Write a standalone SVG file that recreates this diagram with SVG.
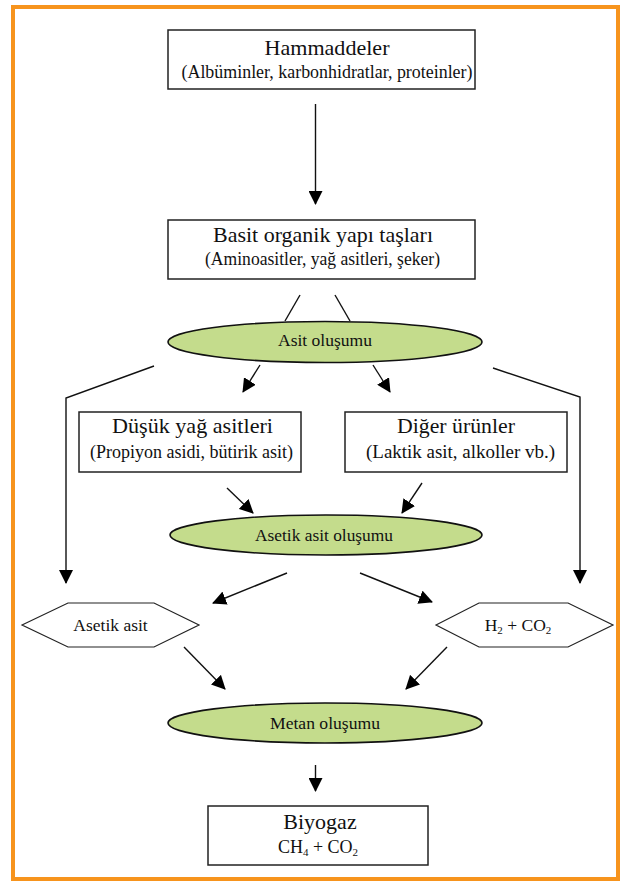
<svg xmlns="http://www.w3.org/2000/svg" width="624" height="882" viewBox="0 0 624 882">
<defs>
<marker id="ah" viewBox="0 0 14 14" refX="13" refY="7" markerWidth="14" markerHeight="14" markerUnits="userSpaceOnUse" orient="auto">
<path d="M0,0 L14,7 L0,14 z" fill="#000"/>
</marker>
<style>
.box{fill:#fff;stroke:#222;stroke-width:1.5}
.ell{fill:#c4dc8c;stroke:#111;stroke-width:1.6}
.hex{fill:#fff;stroke:#222;stroke-width:1.2}
.t{font-family:"Liberation Serif","Times New Roman",serif;fill:#111;text-anchor:middle}
.big{font-size:22px}
.sub{font-size:18px}
.sm{font-size:17.5px}
.con{stroke:#111;stroke-width:1.4;fill:none}
</style>
</defs>
<rect x="13" y="7" width="605" height="872" fill="#fff" stroke="#f7941d" stroke-width="4"/>

<g id="connectors">
<line class="con" x1="315.5" y1="104" x2="315.5" y2="204" marker-end="url(#ah)"/>
<line class="con" x1="300" y1="295" x2="285" y2="321"/>
<line class="con" x1="335" y1="295" x2="350" y2="321"/>
<line class="con" x1="260" y1="365" x2="243" y2="392" marker-end="url(#ah)"/>
<line class="con" x1="373" y1="365" x2="390" y2="392" marker-end="url(#ah)"/>
<polyline class="con" points="154,366 66,398 66,583" marker-end="url(#ah)"/>
<polyline class="con" points="493,368 580,397 580,583" marker-end="url(#ah)"/>
<line class="con" x1="227" y1="488" x2="253" y2="513" marker-end="url(#ah)"/>
<line class="con" x1="422" y1="483" x2="402" y2="513" marker-end="url(#ah)"/>
<line class="con" x1="287" y1="573" x2="213" y2="603" marker-end="url(#ah)"/>
<line class="con" x1="360" y1="573" x2="432" y2="602" marker-end="url(#ah)"/>
<line class="con" x1="184" y1="647" x2="225" y2="689" marker-end="url(#ah)"/>
<line class="con" x1="447" y1="647" x2="406" y2="689" marker-end="url(#ah)"/>
<line class="con" x1="315.5" y1="765" x2="315.5" y2="791" marker-end="url(#ah)"/>
</g>

<g id="hammaddeler">
<rect class="box" x="168" y="30" width="307" height="59"/>
<text class="t big" x="327" y="55" textLength="125" lengthAdjust="spacingAndGlyphs">Hammaddeler</text>
<text class="t sub" x="327" y="78" textLength="291" lengthAdjust="spacingAndGlyphs">(Albüminler, karbonhidratlar, proteinler)</text>
</g>

<g id="basit">
<rect class="box" x="168" y="220" width="307" height="59"/>
<text class="t big" x="323" y="242" textLength="220" lengthAdjust="spacingAndGlyphs">Basit organik yapı taşları</text>
<text class="t sub" x="322.5" y="265" textLength="235" lengthAdjust="spacingAndGlyphs">(Aminoasitler, yağ asitleri, şeker)</text>
</g>

<g id="asit-olusumu">
<ellipse class="ell" cx="325" cy="342" rx="157" ry="20.5"/>
<text class="t sm" x="325" y="346" textLength="94" lengthAdjust="spacingAndGlyphs">Asit oluşumu</text>
</g>

<g id="dusuk">
<rect class="box" x="79" y="412" width="222" height="60"/>
<text class="t big" x="192.5" y="433" textLength="161" lengthAdjust="spacingAndGlyphs">Düşük yağ asitleri</text>
<text class="t sub" x="191.5" y="458" textLength="203" lengthAdjust="spacingAndGlyphs">(Propiyon asidi, bütirik asit)</text>
</g>

<g id="diger">
<rect class="box" x="345" y="412" width="222" height="60"/>
<text class="t big" x="456" y="433" textLength="118" lengthAdjust="spacingAndGlyphs">Diğer ürünler</text>
<text class="t sub" x="460.5" y="458" textLength="189" lengthAdjust="spacingAndGlyphs">(Laktik asit, alkoller vb.)</text>
</g>

<g id="asetik-asit-olusumu">
<ellipse class="ell" cx="326" cy="535" rx="156" ry="20"/>
<text class="t sm" x="324" y="541" textLength="138" lengthAdjust="spacingAndGlyphs">Asetik asit oluşumu</text>
</g>

<g id="asetik-asit">
<polygon class="hex" points="22,625 68,603 154,603 199,625 154,647 68,647"/>
<text class="t sm" x="110.5" y="631">Asetik asit</text>
</g>

<g id="h2-co2">
<polygon class="hex" points="436,625 479,603 568,603 613,625 568,647 479,647"/>
<text class="t sm" x="518" y="631">H<tspan font-size="11" dy="3">2</tspan><tspan dy="-3"> + CO</tspan><tspan font-size="11" dy="3">2</tspan></text>
</g>

<g id="metan-olusumu">
<ellipse class="ell" cx="325" cy="723" rx="157" ry="20"/>
<text class="t sm" x="325" y="729" textLength="110" lengthAdjust="spacingAndGlyphs">Metan oluşumu</text>
</g>

<g id="biyogaz">
<rect class="box" x="208" y="806" width="220" height="59"/>
<text class="t big" x="320" y="829">Biyogaz</text>
<text class="t sub" x="318" y="853">CH<tspan font-size="11" dy="3">4</tspan><tspan dy="-3"> + CO</tspan><tspan font-size="11" dy="3">2</tspan></text>
</g>
</svg>
